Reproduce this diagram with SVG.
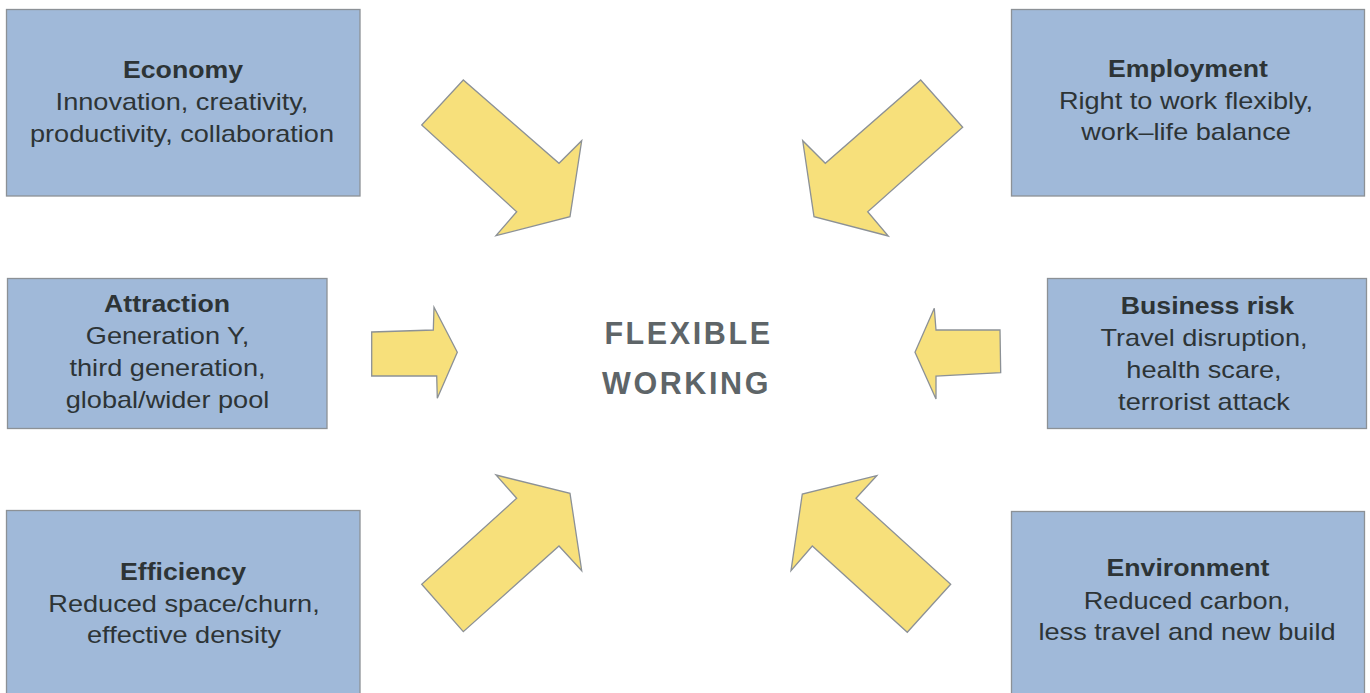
<svg xmlns="http://www.w3.org/2000/svg" width="1370" height="693" viewBox="0 0 1370 693">
<style>
.box{fill:#a0b9d9;stroke:#8c9196;stroke-width:1.3}
.arr{fill:#f7e07b;stroke:#8c9196;stroke-width:1.3;stroke-linejoin:miter}
text{font-family:"Liberation Sans",Arial,sans-serif;fill:#2d3436;text-anchor:middle;font-size:23px}
.t{font-weight:bold}
.c{font-weight:bold;fill:#5e6568;font-size:30.5px;letter-spacing:2.6px}
</style>
<rect width="1370" height="693" fill="#ffffff"/>
<g id="economy">
<rect class="box" x="6.5" y="9.5" width="353.5" height="186.5"/>
<g transform="translate(183 0) scale(1.16 1)"><text class="t" x="0" y="78">Economy</text></g>
<g transform="translate(182 0) scale(1.18 1)">
<text x="0" y="110">Innovation, creativity,</text>
<text x="0" y="142">productivity, collaboration</text>
</g>
</g>
<g id="employment">
<rect class="box" x="1011.5" y="9.5" width="353" height="186.5"/>
<g transform="translate(1188 0) scale(1.16 1)"><text class="t" x="0" y="77">Employment</text></g>
<g transform="translate(1186 0) scale(1.18 1)">
<text x="0" y="109">Right to work flexibly,</text>
<text x="0" y="140">work–life balance</text>
</g>
</g>
<g id="attraction">
<rect class="box" x="7.5" y="278.5" width="319.5" height="150"/>
<g transform="translate(167 0) scale(1.16 1)"><text class="t" x="0" y="312">Attraction</text></g>
<g transform="translate(167.5 0) scale(1.18 1)">
<text x="0" y="344">Generation Y,</text>
<text x="0" y="376">third generation,</text>
<text x="0" y="408">global/wider pool</text>
</g>
</g>
<g id="business-risk">
<rect class="box" x="1047.5" y="278.5" width="319" height="150"/>
<g transform="translate(1207.5 0) scale(1.16 1)"><text class="t" x="0" y="314">Business risk</text></g>
<g transform="translate(1204 0) scale(1.18 1)">
<text x="0" y="346">Travel disruption,</text>
<text x="0" y="378">health scare,</text>
<text x="0" y="410">terrorist attack</text>
</g>
</g>
<g id="efficiency">
<rect class="box" x="6.5" y="510.5" width="353.5" height="190"/>
<g transform="translate(183 0) scale(1.16 1)"><text class="t" x="0" y="580">Efficiency</text></g>
<g transform="translate(184 0) scale(1.18 1)">
<text x="0" y="612">Reduced space/churn,</text>
<text x="0" y="643">effective density</text>
</g>
</g>
<g id="environment">
<rect class="box" x="1011.5" y="511.5" width="353" height="190"/>
<g transform="translate(1188 0) scale(1.16 1)"><text class="t" x="0" y="576">Environment</text></g>
<g transform="translate(1187 0) scale(1.18 1)">
<text x="0" y="609">Reduced carbon,</text>
<text x="0" y="640">less travel and new build</text>
</g>
</g>
<g id="center">
<text class="c" x="688.5" y="344">FLEXIBLE</text>
<text class="c" x="686.5" y="394">WORKING</text>
</g>
<g id="connectors">
<polygon class="arr" points="463.3,80 421.7,125 516.7,211.7 496,235.7 570,216.7 581.7,140.7 559,163.3"/>
<polygon class="arr" points="920.7,80 962.7,127.3 867.7,211.7 888.3,236 814,216.7 802.7,140.7 825.3,163.3"/>
<polygon class="arr" points="371.7,332 433.3,330 434,307.3 457.3,352.3 437.3,398.3 436.7,376 371.7,376"/>
<polygon class="arr" points="1000,330 936,330 934.3,308.3 915,352.3 936,399 936,376 1000.7,372.7"/>
<polygon class="arr" points="496,475 570,493.3 581.7,570.7 559,546 463.3,631.7 421.7,584.3 516.7,498.3"/>
<polygon class="arr" points="876.7,475.7 856,498.3 950.7,584.3 907.3,632.3 812.3,546 791,570.7 802.3,494"/>
</g>
</svg>
